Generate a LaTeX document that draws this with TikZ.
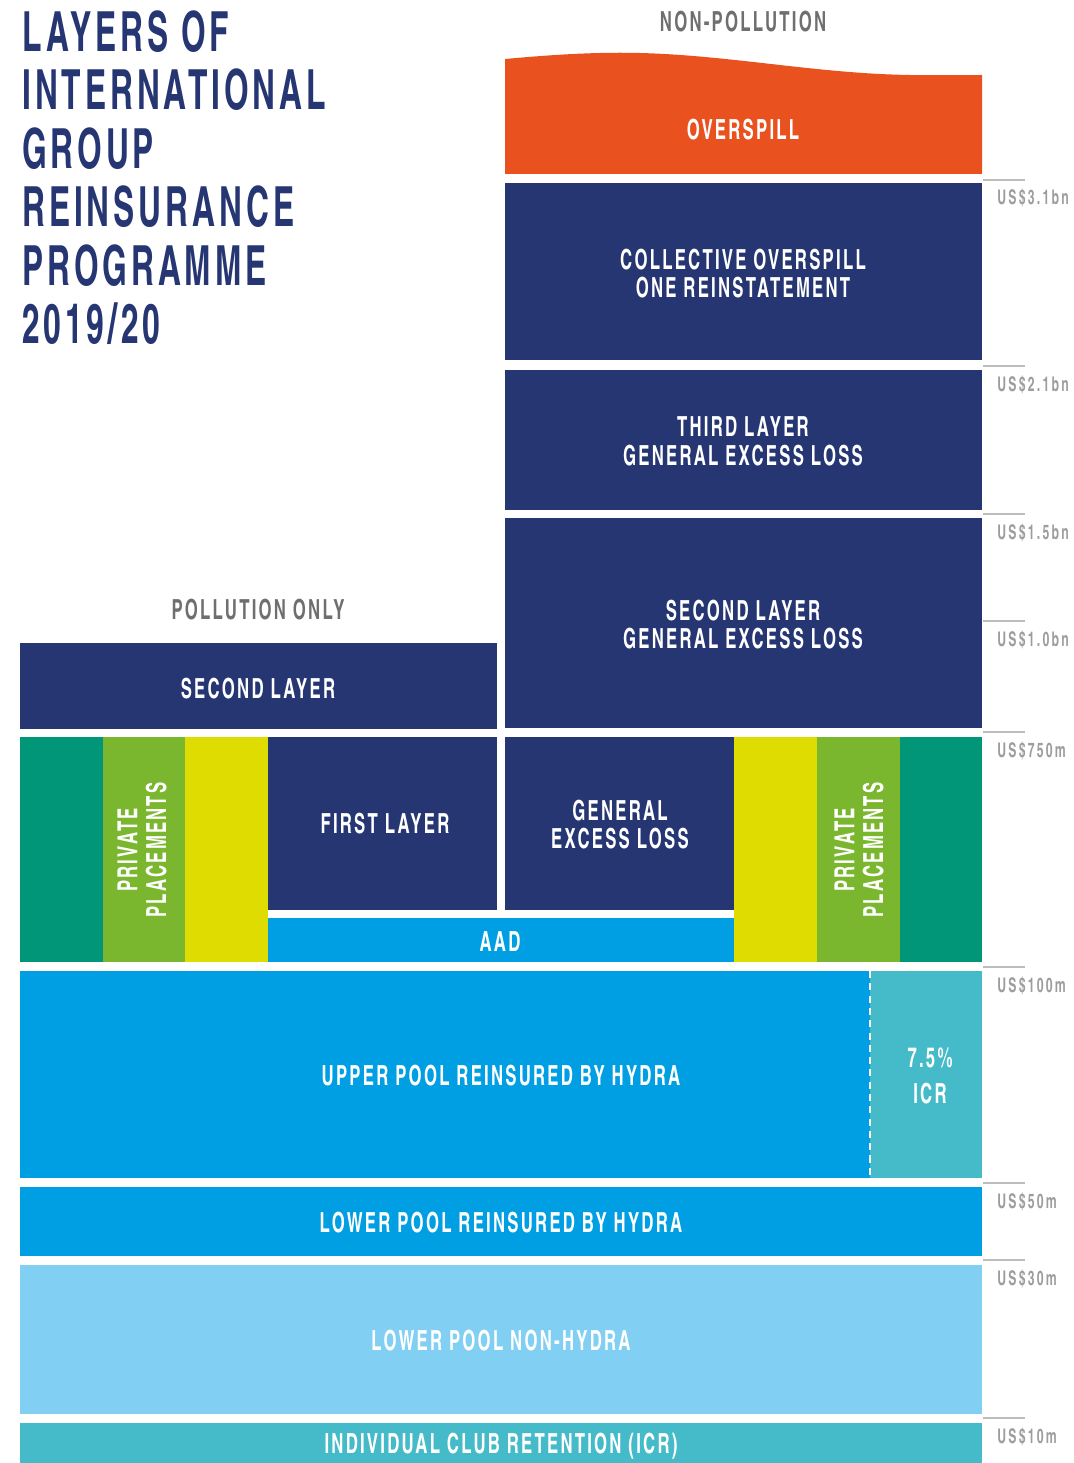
\documentclass[tikz,border=0pt]{standalone}
\usepackage{fontspec}
\setmainfont{texgyreheroscn-bold.otf}[FakeStretch=0.74,LetterSpace=8]
\newfontfamily\titlefam{texgyreheroscn-bold.otf}[FakeStretch=0.70,LetterSpace=7]
\newfontfamily\valfam{texgyreheroscn-bold.otf}[FakeStretch=0.74,LetterSpace=11]
\definecolor{navy}{HTML}{263673}
\definecolor{spill}{HTML}{E9521E}
\definecolor{dgreen}{HTML}{009677}
\definecolor{lgreen}{HTML}{7AB72E}
\definecolor{lime}{HTML}{DEDC00}
\definecolor{pool}{HTML}{009FE3}
\definecolor{icr}{HTML}{45BBC9}
\definecolor{lblue}{HTML}{82CFF4}
\definecolor{valgray}{HTML}{9D9D9D}
\definecolor{tickgray}{HTML}{BDBDBD}
\definecolor{headgray}{HTML}{6F6F6F}
\begin{document}
\begin{tikzpicture}[x=0.02cm,y=-0.02cm,
  lbl/.style={text=white,font=\fontsize{15.75}{16.4}\selectfont,align=center,inner sep=0pt},
  head/.style={text=headgray,font=\fontsize{15.75}{16.4}\selectfont,inner sep=0pt},
  val/.style={text=valgray,font=\valfam\fontsize{11.5}{12}\selectfont,anchor=base west,inner sep=0pt},
  tick/.style={draw=tickgray,line width=0.8pt}]
\useasboundingbox (0,0) rectangle (1074,1463);

% title
\node[anchor=north west,inner sep=0pt,align=left,text=navy,
      font=\titlefam\fontsize{31.5}{33.3}\selectfont] (title) at (22,10)
  {LAYERS OF\\INTERNATIONAL\\GROUP\\REINSURANCE\\PROGRAMME\\2019/20};

% column headings
\node[head] (nonpol) at (743,22) {NON-POLLUTION};
\node[head] (polonly) at (258,610) {POLLUTION ONLY};

% non-pollution tower
\fill[spill] (505,174) -- (505,59) .. controls (560,54) and (600,52) .. (640,53)
  .. controls (720,55) and (800,70) .. (880,74)
  .. controls (920,76) and (960,75) .. (982,75) -- (982,174) -- cycle;
\node[lbl] (overspill) at (743,130) {OVERSPILL};

\fill[navy] (505,183) rectangle (982,360);
\node[lbl] (collective) at (743,273.5) {COLLECTIVE OVERSPILL\\ONE REINSTATEMENT};

\fill[navy] (505,370) rectangle (982,510);
\node[lbl] (third) at (743,441) {THIRD LAYER\\GENERAL EXCESS LOSS};

\fill[navy] (505,518) rectangle (982,728);
\node[lbl] (secondgxl) at (743,624.5) {SECOND LAYER\\GENERAL EXCESS LOSS};

% pollution-only second layer
\fill[navy] (20,643) rectangle (497,729);
\node[lbl] (secondpol) at (258,689) {SECOND LAYER};

% private placements, left
\fill[dgreen] (20,737) rectangle (103,962);
\fill[lgreen] (103,737) rectangle (185,962);
\fill[lime] (185,737) rectangle (268,962);
\node[lbl,rotate=90] (ppleft) at (142,850) {PRIVATE\\PLACEMENTS};

% first layer / general excess loss / AAD
\fill[navy] (268,737) rectangle (497,910);
\node[lbl] (first) at (385,824) {FIRST LAYER};
\fill[navy] (505,737) rectangle (734,910);
\node[lbl] (gxl) at (620,824.5) {GENERAL\\EXCESS LOSS};
\fill[pool] (268,918) rectangle (734,962);
\node[lbl] (aad) at (500,942) {AAD};

% private placements, right
\fill[lime] (734,737) rectangle (817,962);
\fill[lgreen] (817,737) rectangle (900,962);
\fill[dgreen] (900,737) rectangle (982,962);
\node[lbl,rotate=90] (ppright) at (859,850) {PRIVATE\\PLACEMENTS};

% pool layers
\fill[pool] (20,971) rectangle (870,1178);
\fill[icr] (870,971) rectangle (982,1178);
\draw[white,line width=0.9pt,dash pattern=on 4pt off 3pt] (870,971) -- (870,1178);
\node[lbl] (upper) at (501,1076) {UPPER POOL REINSURED BY HYDRA};
\node[lbl,font=\fontsize{15.75}{20.4}\selectfont] (icrshare) at (930,1076) {7.5\%\\ICR};

\fill[pool] (20,1187) rectangle (982,1256);
\node[lbl] (lowerhydra) at (501,1223) {LOWER POOL REINSURED BY HYDRA};

\fill[lblue] (20,1265) rectangle (982,1414);
\node[lbl] (lowernon) at (501,1341) {LOWER POOL NON-HYDRA};

\fill[icr] (20,1423) rectangle (982,1463);
\node[lbl] (retention) at (501,1446) {INDIVIDUAL CLUB RETENTION (ICR)};

% scale marks
\foreach \y/\t/\n in {180/US\$3.1bn/v1, 366/US\$2.1bn/v2, 514/US\$1.5bn/v3,
  621/US\$1.0bn/v4, 732/US\$750m/v5, 967/US\$100m/v6, 1183/US\$50m/v7,
  1260/US\$30m/v8, 1418/US\$10m/v9}{
  \draw[tick] (983,\y) -- (1025,\y);
  \node[val] (\n) at (997,\y+25) {\t};
}
\end{tikzpicture}
\end{document}
